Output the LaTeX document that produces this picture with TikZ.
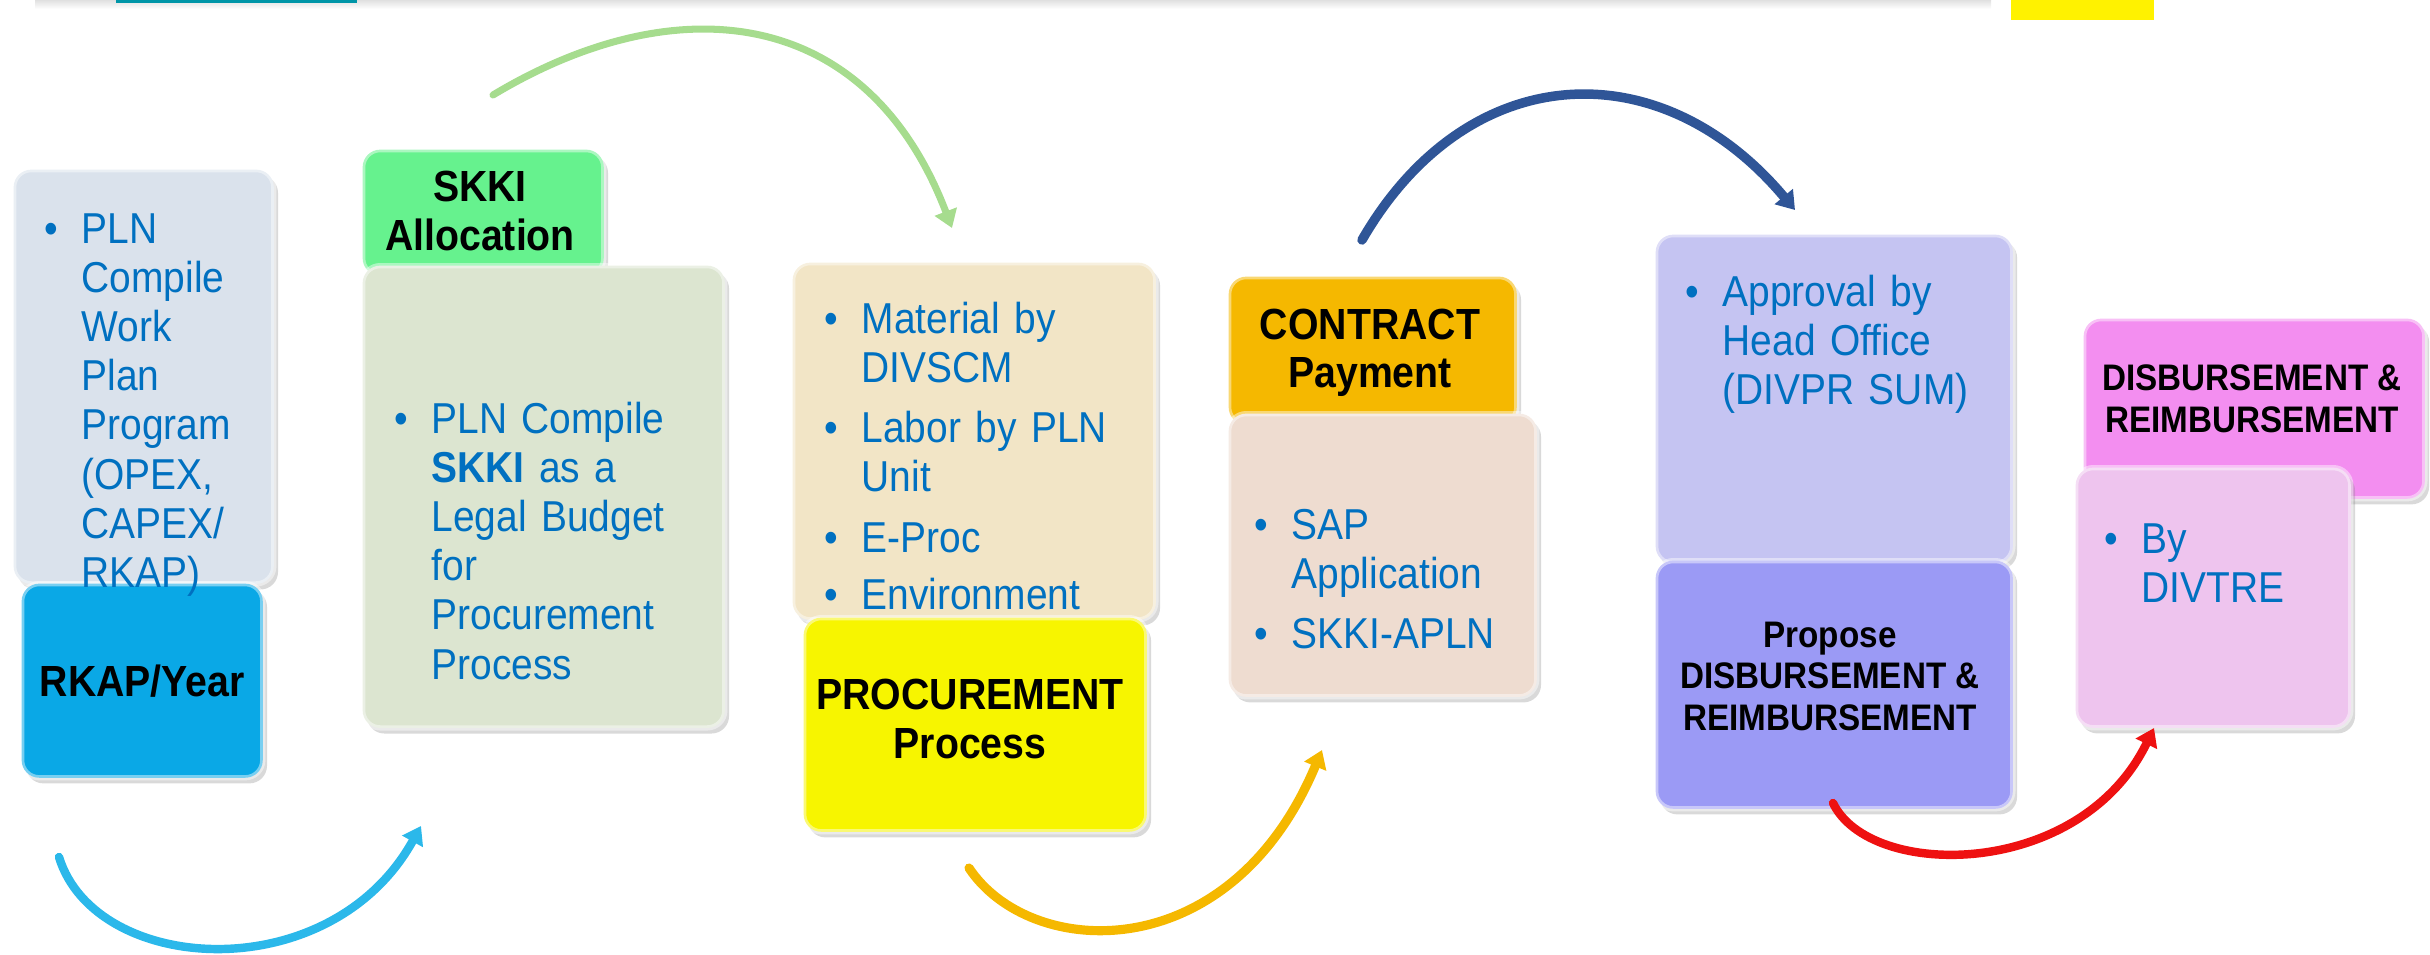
\documentclass[tikz,border=0pt]{standalone}
\usepackage{fontspec}
\setmainfont{Liberation Sans}[FakeStretch=0.9]
\usetikzlibrary{arrows.meta}
\usetikzlibrary{shadows}

\definecolor{txtblue}{HTML}{0070C0}
\definecolor{rkapgray}{HTML}{DAE2EC}
\definecolor{rkapblue}{HTML}{0AA8E6}
\definecolor{skkigreen}{HTML}{66F28E}
\definecolor{skkisage}{HTML}{DCE5D0}
\definecolor{procbeige}{HTML}{F2E5C6}
\definecolor{procyellow}{HTML}{F7F500}
\definecolor{contractamber}{HTML}{F5B800}
\definecolor{contractpeach}{HTML}{EEDCD0}
\definecolor{approvallav}{HTML}{C5C4F2}
\definecolor{proposeblue}{HTML}{9B9AF5}
\definecolor{disbpink}{HTML}{F38EF0}
\definecolor{disblight}{HTML}{EEC4EE}
\definecolor{arccyan}{HTML}{2BB8EA}
\definecolor{arcgreen}{HTML}{A6DC8E}
\definecolor{arcnavy}{HTML}{2F5597}
\definecolor{arcorange}{HTML}{F5B800}
\definecolor{arcred}{HTML}{EE1111}
\definecolor{topteal}{HTML}{0096A8}

\newcommand{\bul}[1]{\noindent\makebox[10.5pt][l]{\textbullet}\begin{tabular}[t]{@{}l@{}}#1\end{tabular}\par\vspace{2.2pt}}

\begin{document}
\begin{tikzpicture}[line cap=round,line join=round,>={Triangle[length=5pt,width=6.5pt]},x=0.01cm,y=-0.01cm,
  panel/.style={rounded corners=5pt,inner sep=0pt,anchor=north west,
    draw=white,draw opacity=0.45,line width=1.5pt,
    drop shadow={opacity=0.3,shadow xshift=1.2pt,shadow yshift=-1.6pt}},
  info/.style={anchor=base west,inner sep=0pt,text width=4cm,align=left,text=txtblue,
    font=\fontsize{12.3}{14}\selectfont},
  head/.style={inner sep=0pt,align=center,font=\bfseries\fontsize{12.4}{13.8}\selectfont},
  headsmall/.style={head,font=\bfseries\fontsize{10.5}{11.8}\selectfont},
  flow/.style={->,line width=2.4pt}]
\useasboundingbox (0,0) rectangle (2430,954);

% top edge of the slide
\shade[top color=black!12,bottom color=white] (35,0) rectangle (1991,9);
\fill[topteal] (116,0) rectangle (357,3);
\fill[yellow] (2011,0) rectangle (2154,20);

% RKAP
\node[panel,fill=rkapgray,minimum width=2.60cm,minimum height=4.14cm] (rkapinfo) at (11,167) {};
\node[panel,fill=rkapblue,minimum width=2.41cm,minimum height=1.94cm] (rkap) at (19,581) {};
\node[info] (rkaptxt) at (44,243) {\bul{PLN\\Compile\\Work\\Plan\\Program\\(OPEX,\\CAPEX/\\RKAP)}};
\node[head] (rkaphead) at (rkap) {RKAP/Year};

% SKKI
\node[panel,fill=skkigreen,minimum width=2.41cm,minimum height=1.26cm] (skkitab) at (360,147) {};
\node[panel,fill=skkisage,minimum width=3.62cm,minimum height=4.62cm] (skkibody) at (360,263) {};
\node[head] (skkihead) at (480,211) {SKKI\\Allocation};
\node[info] (skkitxt) at (394,433) {\bul{PLN Compile\\\textbf{SKKI} as a\\Legal Budget\\for\\Procurement\\Process}};

% procurement
\node[panel,fill=procbeige,minimum width=3.63cm,minimum height=3.57cm] (procinfo) at (790,260) {};
\node[panel,fill=procyellow,minimum width=3.43cm,minimum height=2.14cm] (proc) at (801,615) {};
\node[info] (proctxt) at (824,333) {\bul{Material by\\DIVSCM}\bul{Labor by PLN\\Unit}\bul{E-Proc}\bul{Environment}};
\node[head] (prochead) at (970,719) {PROCUREMENT\\Process};

% contract
\node[panel,fill=contractamber,minimum width=2.88cm,minimum height=1.48cm] (contracttab) at (1226,274) {};
\node[panel,fill=contractpeach,minimum width=3.08cm,minimum height=2.83cm] (contractbody) at (1226,411) {};
\node[head] (contracthead) at (1370,353) {CONTRACT\\Payment};
\node[info] (contracttxt) at (1254,539) {\bul{SAP\\Application}\bul{SKKI-APLN}};

% approval
\node[panel,fill=approvallav,minimum width=3.57cm,minimum height=3.29cm] (approval) at (1653,232) {};
\node[panel,fill=proposeblue,minimum width=3.57cm,minimum height=2.48cm] (propose) at (1653,558) {};
\node[info] (approvaltxt) at (1685,306) {\bul{Approval by\\Head Office\\(DIVPR SUM)}};
\node[headsmall] (proposehead) at (1830,676) {Propose\\DISBURSEMENT \&\\REIMBURSEMENT};

% disbursement
\node[panel,fill=disbpink,minimum width=3.41cm,minimum height=1.80cm] (disbtab) at (2081,316) {};
\node[panel,fill=disblight,minimum width=2.75cm,minimum height=2.60cm] (disbbody) at (2073,465) {};
\node[headsmall] (disbhead) at (2252,399) {DISBURSEMENT \&\\REIMBURSEMENT};
\node[info] (disbtxt) at (2104,553) {\bul{By\\DIVTRE}};

% curved arrows
\coordinate (cyanstart) at (59,857);   \coordinate (cyanend) at (421,826);
\coordinate (greenstart) at (493,95);  \coordinate (greenend) at (952,228);
\coordinate (orangestart) at (969,868); \coordinate (orangeend) at (1322,750);
\coordinate (navystart) at (1362,240); \coordinate (navyend) at (1795,210);
\coordinate (redstart) at (1833,803);  \coordinate (redend) at (2154,728);
\draw[flow,draw=arccyan] (cyanstart) .. controls (95,975) and (330,990) .. (cyanend);
\draw[flow,draw=arcgreen,line width=2pt] (greenstart) .. controls (676,-15) and (867,5) .. (greenend);
\draw[flow,draw=arcorange,line width=2.6pt] (orangestart) .. controls (1030,960) and (1230,970) .. (orangeend);
\draw[flow,draw=arcnavy,line width=2.7pt] (navystart) .. controls (1467,58) and (1660,49) .. (navyend);
\draw[flow,draw=arcred] (redstart) .. controls (1870,880) and (2080,880) .. (redend);
\end{tikzpicture}
\end{document}
